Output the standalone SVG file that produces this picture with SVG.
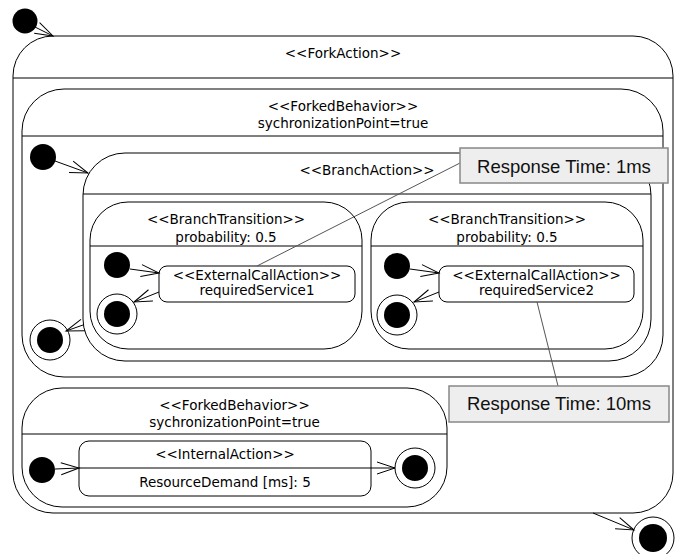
<svg xmlns="http://www.w3.org/2000/svg" width="678" height="554" viewBox="0 0 678 554">
<defs>
<marker id="arr" markerUnits="userSpaceOnUse" markerWidth="22" markerHeight="14" refX="19" refY="7" orient="auto">
<path d="M1,1 L19,7 L1,13" fill="none" stroke="#000" stroke-width="1"/>
</marker>
<style>
.box{fill:#fff;stroke:#000;stroke-width:1}
.sep{stroke:#000;stroke-width:1}
.lbl{font-family:"DejaVu Sans",Verdana,sans-serif;font-size:13.5px;fill:#000;text-anchor:middle}
.init{fill:#000}
.fo{fill:#fff;stroke:#000;stroke-width:1}
.note{fill:#eeeeee;stroke:#888;stroke-width:1.5}
.ntxt{font-family:"Liberation Sans",Arial,sans-serif;font-size:18.5px;fill:#111;text-anchor:middle}
.nl{stroke:#555;stroke-width:1}
.edge{fill:none;stroke:#000;stroke-width:1;marker-end:url(#arr)}
</style>
</defs>
<rect width="678" height="554" fill="#fff"/>

<g id="forkAction">
<rect class="box" x="13" y="36" width="660" height="477" rx="40" ry="40"/>
<line class="sep" x1="13" y1="78" x2="673" y2="78"/>
<text class="lbl" x="343" y="58">&lt;&lt;ForkAction&gt;&gt;</text>
</g>

<g id="forkedBehavior1">
<rect class="box" x="22" y="89" width="641" height="288" rx="42" ry="42"/>
<line class="sep" x1="22" y1="136" x2="663" y2="136"/>
<text class="lbl" x="343" y="111">&lt;&lt;ForkedBehavior&gt;&gt;</text>
<text class="lbl" x="343" y="128">sychronizationPoint=true</text>
</g>

<g id="branchAction">
<rect class="box" x="83" y="153" width="568" height="208" rx="42" ry="42"/>
<line class="sep" x1="83" y1="194" x2="651" y2="194"/>
<text class="lbl" x="367" y="175">&lt;&lt;BranchAction&gt;&gt;</text>
</g>

<g id="branchTransition1">
<rect class="box" x="90" y="202" width="272" height="147" rx="38" ry="38"/>
<line class="sep" x1="90" y1="246" x2="362" y2="246"/>
<text class="lbl" x="226" y="224">&lt;&lt;BranchTransition&gt;&gt;</text>
<text class="lbl" x="226" y="242">probability: 0.5</text>
</g>

<g id="branchTransition2">
<rect class="box" x="371" y="202" width="272" height="147" rx="38" ry="38"/>
<line class="sep" x1="371" y1="246" x2="643" y2="246"/>
<text class="lbl" x="507" y="224">&lt;&lt;BranchTransition&gt;&gt;</text>
<text class="lbl" x="507" y="242">probability: 0.5</text>
</g>

<g id="externalCall1">
<rect class="box" x="159" y="266" width="196" height="36" rx="8" ry="8"/>
<text class="lbl" x="257" y="280">&lt;&lt;ExternalCallAction&gt;&gt;</text>
<text class="lbl" x="257" y="295">requiredService1</text>
</g>

<g id="externalCall2">
<rect class="box" x="439" y="266" width="195" height="36" rx="8" ry="8"/>
<text class="lbl" x="536.5" y="280">&lt;&lt;ExternalCallAction&gt;&gt;</text>
<text class="lbl" x="536.5" y="295">requiredService2</text>
</g>

<g id="forkedBehavior2">
<rect class="box" x="22" y="388" width="425" height="119" rx="40" ry="40"/>
<line class="sep" x1="22" y1="434" x2="447" y2="434"/>
<text class="lbl" x="234.5" y="410">&lt;&lt;ForkedBehavior&gt;&gt;</text>
<text class="lbl" x="234.5" y="427">sychronizationPoint=true</text>
</g>

<g id="internalAction">
<rect class="box" x="79" y="441" width="292" height="55" rx="10" ry="10"/>
<line class="sep" x1="79" y1="468" x2="371" y2="468"/>
<text class="lbl" x="225" y="459">&lt;&lt;InternalAction&gt;&gt;</text>
<text class="lbl" x="225" y="487">ResourceDemand [ms]: 5</text>
</g>

<g id="init0"><circle class="init" cx="25" cy="21" r="12.5"/></g>
<g id="init1"><circle class="init" cx="43" cy="157" r="13"/></g>
<g id="init2"><circle class="init" cx="117" cy="265" r="13"/></g>
<g id="init3"><circle class="init" cx="397" cy="266" r="13"/></g>
<g id="init4"><circle class="init" cx="42" cy="470" r="13"/></g>

<g id="final1"><circle class="fo" cx="117" cy="314" r="20"/><circle class="init" cx="117" cy="314" r="13"/></g>
<g id="final2"><circle class="fo" cx="397" cy="315" r="20"/><circle class="init" cx="397" cy="315" r="13"/></g>
<g id="final3"><circle class="fo" cx="50" cy="340" r="20"/><circle class="init" cx="50" cy="340" r="13"/></g>
<g id="final4"><circle class="fo" cx="415" cy="468" r="20"/><circle class="init" cx="415" cy="468" r="13"/></g>
<g id="final5"><circle class="fo" cx="653" cy="538" r="21"/><circle class="init" cx="653" cy="538" r="14"/></g>

<g id="connectors">
<path class="edge" d="M35,27 L53,36"/>
<path class="edge" d="M55,161 L88,173"/>
<path class="edge" d="M130,269 L159,273"/>
<path class="edge" d="M159,292 L134,302"/>
<path class="edge" d="M410,269 L439,273"/>
<path class="edge" d="M439,292 L414,302"/>
<path class="edge" d="M83,325 L66,331"/>
<path class="edge" d="M55,469 L79,468"/>
<path class="edge" d="M371,468 L395,468"/>
<path class="edge" d="M593,513 L634,530"/>
<line class="nl" x1="257" y1="266" x2="460" y2="163"/>
<line class="nl" x1="537" y1="302" x2="558" y2="386"/>
</g>

<g id="note1">
<rect class="note" x="460" y="148" width="208" height="35"/>
<text class="ntxt" x="564" y="173">Response Time: 1ms</text>
</g>
<g id="note2">
<rect class="note" x="449" y="386" width="220" height="36"/>
<text class="ntxt" x="559" y="410">Response Time: 10ms</text>
</g>
</svg>
